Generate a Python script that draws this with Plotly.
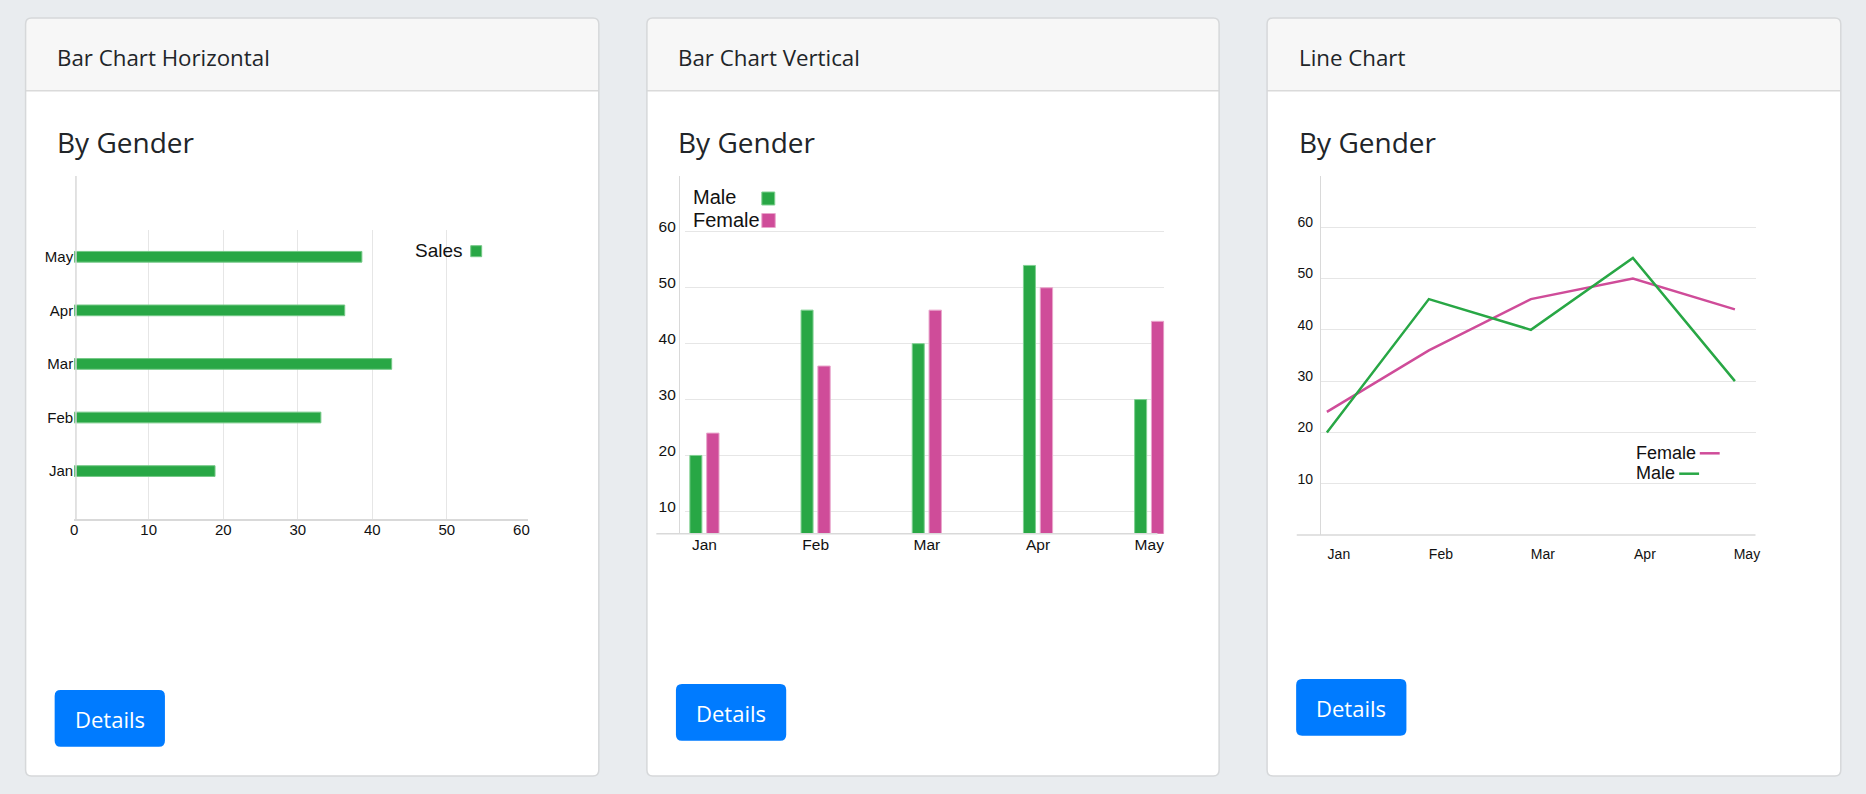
import plotly.graph_objects as go

# page size (px)
W, H = 1866, 794

# data
months = ["Jan", "Feb", "Mar", "Apr", "May"]
sales = [18.9, 33.1, 42.6, 36.3, 38.6]
male = [20, 46, 40, 54, 30]
female = [24, 36, 46, 50, 44]

card_titles = ["Bar Chart Horizontal", "Bar Chart Vertical", "Line Chart"]
chart_title = "By Gender"
button_text = "Details"

GREEN = "#28a745"
PINK = "#cf4c99"
GRID = "#e6e6e6"
AXIS = "#d9d9d9"
TEXT = "#212529"
CHART_FONT = "Liberation Sans, Arial, sans-serif"
UI_FONT = "Open Sans, sans-serif"


def fx(x):
    return x / W


def fy(y):
    return 1 - y / H


def rrect(x0, y0, x1, y1, r, top_only=False):
    # rounded rectangle path in paper coords, input in px
    rb = 0 if top_only else r
    pts = [
        ("M", [(x0 + r, y0)]),
        ("L", [(x1 - r, y0)]),
        ("Q", [(x1, y0), (x1, y0 + r)]),
        ("L", [(x1, y1 - rb)]),
        ("Q", [(x1, y1), (x1 - rb, y1)]),
        ("L", [(x0 + rb, y1)]),
        ("Q", [(x0, y1), (x0, y1 - rb)]),
        ("L", [(x0, y0 + r)]),
        ("Q", [(x0, y0), (x0 + r, y0)]),
    ]
    out = ""
    for cmd, ps in pts:
        out += cmd + " ".join(f"{fx(a):.5f},{fy(b):.5f}" for a, b in ps) + " "
    return out + "Z"


fig = go.Figure()

# --- chart 1: horizontal bars
fig.add_trace(go.Bar(
    y=months, x=sales, orientation="h", name="Sales",
    marker=dict(color=GREEN, line=dict(color="#74c886", width=1)),
    width=0.2, xaxis="x", yaxis="y", showlegend=False, hoverinfo="x+y",
))

# --- chart 2: vertical grouped bars
fig.add_trace(go.Bar(
    x=months, y=male, name="Male", width=0.108, offset=-0.1316,
    marker=dict(color=GREEN, line=dict(color="#7fd091", width=1)),
    xaxis="x2", yaxis="y2", showlegend=False,
))
fig.add_trace(go.Bar(
    x=months, y=female, name="Female", width=0.111, offset=0.0197,
    marker=dict(color=PINK, line=dict(color="#e9a6cc", width=1)),
    xaxis="x2", yaxis="y2", showlegend=False,
))

# --- chart 3: lines
fig.add_trace(go.Scatter(
    x=months, y=female, mode="lines", name="Female",
    line=dict(color=PINK, width=2.5), xaxis="x3", yaxis="y3", showlegend=False,
))
fig.add_trace(go.Scatter(
    x=months, y=male, mode="lines", name="Male",
    line=dict(color=GREEN, width=2.5), xaxis="x3", yaxis="y3", showlegend=False,
))

tickfont = lambda s: dict(family=CHART_FONT, size=s, color="#111")

fig.update_layout(
    width=W, height=H, autosize=False,
    margin=dict(l=0, r=0, t=0, b=0, pad=0),
    paper_bgcolor="#e9ecef", plot_bgcolor="rgba(0,0,0,0)",
    barmode="overlay", showlegend=False,
    xaxis=dict(
        domain=[fx(70.5), fx(527)], range=[0, 60.95], anchor="y",
        tickvals=[0, 10, 20, 30, 40, 50, 60], showgrid=False, zeroline=False,
        minor=dict(tickvals=[10, 20, 30, 40, 50], showgrid=True, gridcolor=GRID, gridwidth=1.3),
        showline=True, linecolor=AXIS, linewidth=1.5, ticks="", ticklabelstandoff=-4,
        tickfont=tickfont(15), fixedrange=True,
    ),
    yaxis=dict(
        domain=[fy(519.3), fy(230)], type="category", categoryorder="array",
        categoryarray=months, range=[-0.9, 4.5], anchor="x",
        showgrid=False, zeroline=False, showline=False, ticks="",
        tickfont=tickfont(15), fixedrange=True,
    ),
    xaxis2=dict(
        domain=[fx(684), fx(1166)], type="category", categoryorder="array",
        categoryarray=months, range=[-0.178, 4.136], anchor="y2",
        showgrid=False, zeroline=False, showline=False, ticks="",
        tickfont=tickfont(15.5), fixedrange=True,
    ),
    yaxis2=dict(
        domain=[fy(533.7), fy(176)], range=[6, 70], anchor="free", position=fx(678.3),
        tickvals=[10, 20, 30, 40, 50, 60], showgrid=True, gridcolor=GRID, gridwidth=1.3,
        zeroline=False, showline=True, linecolor=AXIS, linewidth=1.3, ticks="",
        ticklabelshift=-5, tickfont=tickfont(15.5), fixedrange=True,
    ),
    xaxis3=dict(
        domain=[fx(1323.3), fx(1760)], type="category", categoryorder="array",
        categoryarray=months, range=[-0.0585, 4.202], anchor="y3",
        showgrid=False, zeroline=False, showline=False, ticks="",
        ticklabelshift=12, ticklabelstandoff=9, tickfont=tickfont(14), fixedrange=True,
    ),
    yaxis3=dict(
        domain=[fy(535), fy(176)], range=[0, 70], anchor="x3",
        tickvals=[10, 20, 30, 40, 50, 60], showgrid=True, gridcolor=GRID, gridwidth=1.3,
        zeroline=False, showline=True, linecolor=AXIS, linewidth=1.3, ticks="",
        ticklabelshift=-5, ticklabelstandoff=4, tickfont=tickfont(14), fixedrange=True,
    ),
)

shapes = []
annotations = []

cards = [(21.7, 597.7), (646, 1221), (1269.2, 1845.7)]
buttons_y = [(690, 746.7), (684, 740.7), (679, 735.7)]
for (x0, x1), title, (by0, by1) in zip(cards, card_titles, buttons_y):
    y0, y1, yh = 18, 776, 90.7
    # card body
    shapes.append(dict(type="path", path=rrect(x0, y0, x1, y1, 6), xref="paper", yref="paper",
                       fillcolor="white", line=dict(width=0), layer="below"))
    # header
    shapes.append(dict(type="path", path=rrect(x0, y0, x1, yh, 6, top_only=True), xref="paper", yref="paper",
                       fillcolor="#f7f7f7", line=dict(width=0), layer="below"))
    shapes.append(dict(type="line", x0=fx(x0), x1=fx(x1), y0=fy(yh), y1=fy(yh), xref="paper", yref="paper",
                       line=dict(color="#dadada", width=1.5), layer="below"))
    # card outline
    shapes.append(dict(type="path", path=rrect(x0, y0, x1, y1, 6), xref="paper", yref="paper",
                       fillcolor="rgba(0,0,0,0)", line=dict(color="#d6d8da", width=1.5), layer="below"))
    # button
    bx0 = x0 + 29.2
    shapes.append(dict(type="path", path=rrect(bx0, by0, bx0 + 110.8, by1, 6), xref="paper", yref="paper",
                       fillcolor="#007bff", line=dict(width=0), layer="below"))
    annotations.append(dict(text=button_text, x=fx(bx0 + 55.4), y=fy((by0 + by1) / 2 + 1), xref="paper",
                            yref="paper", xanchor="center", yanchor="middle", showarrow=False,
                            font=dict(family=UI_FONT, size=22, color="white")))
    annotations.append(dict(text=title, x=fx(x0 + 29.6), y=fy(57), xref="paper", yref="paper",
                            xanchor="left", yanchor="middle", showarrow=False,
                            font=dict(family=UI_FONT, size=22.3, color=TEXT)))
    annotations.append(dict(text=chart_title, x=fx(x0 + 29.6), y=fy(141.8), xref="paper", yref="paper",
                            xanchor="left", yanchor="middle", showarrow=False,
                            font=dict(family=UI_FONT, size=28, color=TEXT)))

# axis lines that run past the plot areas
shapes.append(dict(type="line", x0=fx(72.3), x1=fx(72.3), y0=fy(176), y1=fy(519.3), xref="paper", yref="paper",
                   line=dict(color=AXIS, width=1.5), layer="above"))
shapes.append(dict(type="line", x0=fx(655.5), x1=fx(1159), y0=fy(533.7), y1=fy(533.7), xref="paper",
                   yref="paper", line=dict(color=AXIS, width=1.5), layer="above"))
shapes.append(dict(type="line", x0=fx(1299), x1=fx(1760), y0=fy(535), y1=fy(535), xref="paper",
                   yref="paper", line=dict(color=AXIS, width=1.5), layer="above"))

# legends (text left of the key, as in the original)
legend_font = lambda s: dict(family=CHART_FONT, size=s, color="#111")
annotations.append(dict(text="Sales", x=fx(463.3), y=fy(250.5), xref="paper", yref="paper",
                        xanchor="right", yanchor="middle", showarrow=False, font=legend_font(19)))
shapes.append(dict(type="rect", x0=fx(469), x1=fx(480), y0=fy(245.7), y1=fy(256.7), xref="paper", yref="paper",
                   fillcolor=GREEN, line=dict(color="#74c886", width=1)))

annotations.append(dict(text="Male", x=fx(690.7), y=fy(197), xref="paper", yref="paper",
                        xanchor="left", yanchor="middle", showarrow=False, font=legend_font(20)))
annotations.append(dict(text="Female", x=fx(690.7), y=fy(219.5), xref="paper", yref="paper",
                        xanchor="left", yanchor="middle", showarrow=False, font=legend_font(20)))
shapes.append(dict(type="rect", x0=fx(761.5), x1=fx(774.5), y0=fy(192), y1=fy(205), xref="paper", yref="paper",
                   fillcolor=GREEN, line=dict(color="#7fd091", width=1)))
shapes.append(dict(type="rect", x0=fx(761.5), x1=fx(775), y0=fy(213.5), y1=fy(227.5), xref="paper", yref="paper",
                   fillcolor=PINK, line=dict(color="#e9a6cc", width=1)))

annotations.append(dict(text="Female", x=fx(1637.7), y=fy(453), xref="paper", yref="paper",
                        xanchor="left", yanchor="middle", showarrow=False, font=legend_font(18)))
annotations.append(dict(text="Male", x=fx(1637.7), y=fy(473), xref="paper", yref="paper",
                        xanchor="left", yanchor="middle", showarrow=False, font=legend_font(18)))
shapes.append(dict(type="line", x0=fx(1704), x1=fx(1724), y0=fy(453.3), y1=fy(453.3), xref="paper",
                   yref="paper", line=dict(color=PINK, width=2.5)))
shapes.append(dict(type="line", x0=fx(1683.3), x1=fx(1703.3), y0=fy(473.7), y1=fy(473.7), xref="paper",
                   yref="paper", line=dict(color=GREEN, width=2.5)))

fig.update_layout(shapes=shapes, annotations=annotations)

fig.write_html("out.html", config={"displayModeBar": False},
               post_script="document.body.style.margin='0';")
